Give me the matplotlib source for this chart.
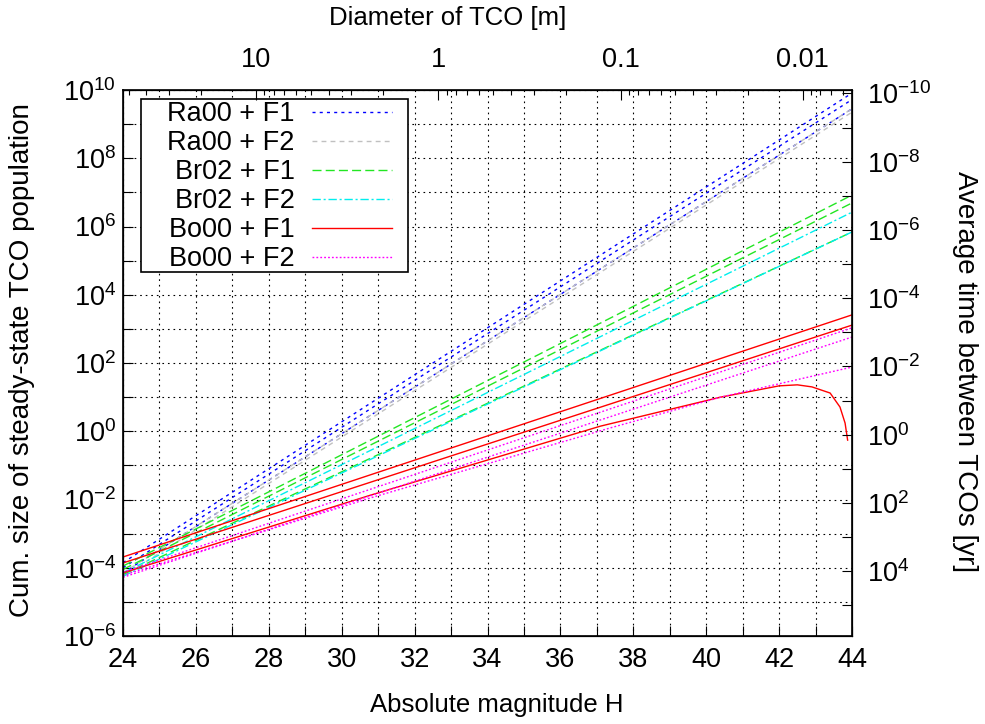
import numpy as np
import matplotlib
matplotlib.use('Agg')
import matplotlib.pyplot as plt
from matplotlib.ticker import FixedLocator, FixedFormatter
from matplotlib.patches import Rectangle

plt.rcParams['font.family'] = ['Liberation Sans', 'DejaVu Sans']
plt.rcParams['mathtext.fontset'] = 'custom'
plt.rcParams['mathtext.rm'] = 'Liberation Sans'
plt.rcParams['mathtext.it'] = 'Liberation Sans:italic'
plt.rcParams['mathtext.bf'] = 'Liberation Sans:bold'
plt.rcParams['lines.scale_dashes'] = False

FS_TICK = 19.5
FS_TITLE = 18.5
FS_LEG = 19.5
FS_ROT = 20

# ---------------- data (log10 of cumulative population) ----------------
H_ends = [24, 44]
ra00_f1 = [[-3.85, 9.91], [-4.00, 9.72], [-4.15, 9.45]]
ra00_f2 = [[-4.15, 9.45], [-4.25, 9.35]]
br02_f1 = [[-3.95, 6.92], [-4.05, 6.69], [-4.20, 5.84]]
br02_f2 = [[-4.15, 6.42], [-4.25, 5.84]]
bo00_f1 = [[-3.685, 3.41], [-3.86, 3.11]]
bo00_f2 = [[-4.13, 3.03], [-4.28, 2.76]]
bo00_f1_curve_H = [24, 30.8, 37.1, 40.4, 42.0, 42.5, 42.9, 43.4, 43.67, 43.81, 43.88]
bo00_f1_curve = [-4.15, -1.87, 0.15, 1.0, 1.33, 1.36, 1.30, 1.12, 0.71, 0.24, -0.26]
bo00_f2_curve_H = [24, 30.8, 37.36, 40.4, 44]
bo00_f2_curve = [-4.22, -1.95, 0.095, 1.0, 1.88]

labels = ['Ra00 + F1', 'Ra00 + F2', 'Br02 + F1', 'Br02 + F2', 'Bo00 + F1', 'Bo00 + F2']

# top axis: diameter [m]
diam_major = [10, 1, 0.1, 0.01]
diam_major_labels = ['10', '1', '0.1', '0.01']
H_at_1m = 32.65
# right axis: average time between TCOs = k / population
time_factor = 0.79

# ---------------- styles ----------------
styles = {
    'Ra00 + F1': dict(color='#0000ff', ls=(0, (2.2, 3.0))),
    'Ra00 + F2': dict(color='#c0c0c0', ls=(0, (3.5, 3.0))),
    'Br02 + F1': dict(color='#22e622', ls=(0, (6.5, 3.0))),
    'Br02 + F2': dict(color='#00eeee', ls=(0, (6.0, 2.0, 1.5, 2.0))),
    'Bo00 + F1': dict(color='#ff0000', ls='-'),
    'Bo00 + F2': dict(color='#ff00ff', ls=(0, (1.3, 1.5))),
}
LW = 1.0

fig = plt.figure(figsize=(9.85, 7.24), dpi=100)
L, R, B, T = 123, 852, 636, 90
W, Hh = 985, 724
ax = fig.add_axes([L / W, 1 - B / Hh, (R - L) / W, (B - T) / Hh])

def draw_group(data, label):
    st = styles[label]
    for i, (a, b) in enumerate(data):
        ax.plot(H_ends, [10 ** a, 10 ** b], color=st['color'], ls=st['ls'], lw=LW,
                label=label if i == 0 else None)

draw_group(ra00_f1, 'Ra00 + F1')
draw_group(ra00_f2, 'Ra00 + F2')
draw_group(br02_f1, 'Br02 + F1')
draw_group(br02_f2, 'Br02 + F2')
draw_group(bo00_f1, 'Bo00 + F1')
ax.plot(bo00_f1_curve_H, 10 ** np.array(bo00_f1_curve), color=styles['Bo00 + F1']['color'],
        ls='-', lw=LW)
draw_group(bo00_f2, 'Bo00 + F2')
ax.plot(bo00_f2_curve_H, 10 ** np.array(bo00_f2_curve), color=styles['Bo00 + F2']['color'],
        ls=styles['Bo00 + F2']['ls'], lw=LW)

ax.set_yscale('log')
ax.set_xlim(24, 44)
ax.set_ylim(1e-6, 1e10)

# ticks
ax.xaxis.set_major_locator(FixedLocator(np.arange(24, 45, 1)))
ax.xaxis.set_major_formatter(FixedFormatter([str(v) if v % 2 == 0 else '' for v in range(24, 45)]))
ax.yaxis.set_major_locator(FixedLocator([10.0 ** k for k in range(-6, 11)]))
ax.yaxis.set_major_formatter(FixedFormatter(
    [r'$10^{%d}$' % k if k % 2 == 0 else '' for k in range(-6, 11)]))
ax.yaxis.set_minor_locator(FixedLocator([]))
ax.tick_params(axis='both', which='major', direction='in', length=7, width=0.8,
               labelsize=FS_TICK, top=False, right=False)
ax.tick_params(axis='x', pad=8)
ax.tick_params(axis='y', pad=5)

ax.grid(True, which='major', color='k', lw=0.8, ls=(0, (1.2, 2.8)))
ax.set_axisbelow(True)
for s in ax.spines.values():
    s.set_linewidth(1.2)

# top axis
axt = ax.twiny()
axt.set_xlim(24, 44)
def d2h(d):
    return H_at_1m - 5 * np.log10(d)
major_pos = [d2h(d) for d in diam_major]
minor_pos = []
for dec in [10, 1, 0.1, 0.01, 0.001]:
    for m in range(2, 10):
        h = d2h(dec * m)
        if 24 <= h <= 44:
            minor_pos.append(h)
axt.xaxis.set_major_locator(FixedLocator(major_pos))
axt.xaxis.set_major_formatter(FixedFormatter(diam_major_labels))
axt.xaxis.set_minor_locator(FixedLocator(minor_pos))
axt.tick_params(axis='x', which='major', direction='in', length=7, width=0.8,
                labelsize=FS_TICK, pad=12)
axt.tick_params(axis='x', which='minor', direction='in', length=3.5, width=0.8)
axt.set_xlabel('Diameter of TCO [m]', fontsize=FS_TITLE)
axt.xaxis.set_label_coords(0.446, 1.132)
axt.xaxis.label.set_va('center')

# right axis
axr = ax.twinx()
axr.set_yscale('log')
axr.set_ylim(time_factor / 1e-6, time_factor / 1e10)
axr.yaxis.set_major_locator(FixedLocator([10.0 ** k for k in range(-10, 6)]))
axr.yaxis.set_major_formatter(FixedFormatter(
    [r'$10^{%d}$' % k if k % 2 == 0 else '' for k in range(-10, 6)]))
axr.yaxis.set_minor_locator(FixedLocator([]))
axr.tick_params(axis='y', which='major', direction='in', length=7, width=0.8,
                labelsize=FS_TICK, pad=11)
axr.set_ylabel('Average time between TCOs [yr]', fontsize=FS_ROT, rotation=-90)
axr.yaxis.set_label_coords(1.155, 0.484)
axr.yaxis.label.set_va('center')

ax.set_xlabel('Absolute magnitude H', fontsize=FS_TITLE)
ax.xaxis.set_label_coords(0.513, -0.126)
ax.xaxis.label.set_va('center')
ax.set_ylabel('Cum. size of steady-state TCO population', fontsize=FS_ROT)
ax.yaxis.set_label_coords(-0.1385, 0.505)
ax.yaxis.label.set_va('center')

# legend box (frame) and entries
box = Rectangle((0.0247, 0.6667), 0.3663, 0.3168, transform=ax.transAxes,
                facecolor='white', edgecolor='black', lw=1.2, zorder=4)
ax.add_patch(box)
leg = ax.legend(loc='upper right', bbox_to_anchor=(0.369, 0.979), borderaxespad=0,
                fontsize=FS_LEG, markerfirst=False, handlelength=2.95, handletextpad=0.65,
                labelspacing=0.11, borderpad=0, frameon=False)
leg.set_zorder(10)

fig.savefig('out.png', dpi=100)
